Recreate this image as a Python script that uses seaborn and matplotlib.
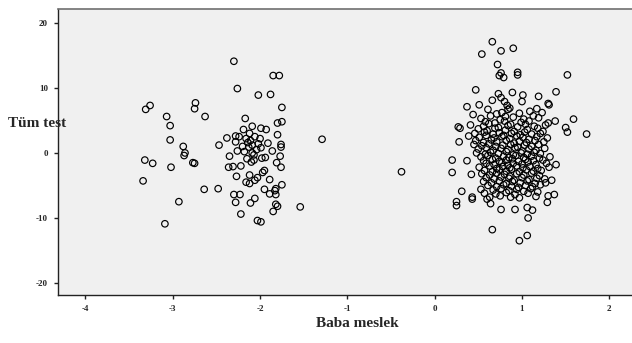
import matplotlib
matplotlib.use("Agg")
import matplotlib.pyplot as plt
import seaborn as sns
import pandas as pd

# ---- data (Baba meslek vs Tüm test) ----
left_points = [
    (-2.30, 14.1), (-1.85, 11.9), (-1.78, 11.9), (-2.26, 9.9), (-2.02, 8.9), (-1.88, 9.0),
    (-3.31, 6.7), (-3.26, 7.3), (-2.74, 7.7), (-2.75, 6.8), (-3.07, 5.6), (-2.63, 5.6), (-3.03, 4.2),
    (-1.75, 7.0), (-2.17, 5.3), (-1.80, 4.6), (-1.75, 4.8), (-2.09, 4.1), (-1.99, 3.8), (-1.93, 3.6), (-2.19, 3.6),
    (-3.03, 2.0), (-2.38, 2.3), (-2.28, 2.6), (-2.24, 2.5), (-1.29, 2.1), (-2.06, 2.5),
    (-2.88, 1.0), (-2.47, 1.2), (-2.28, 1.7), (-2.14, 1.6), (-2.11, 1.9), (-2.09, 1.2), (-2.13, 0.9),
    (-1.91, 1.5), (-1.76, 1.3), (-1.76, 0.9), (-1.99, 0.8), (-2.26, 0.3), (-2.18, 0.2), (-2.09, 0.0), (-2.07, -0.3),
    (-1.86, 0.3), (-2.86, 0.0), (-2.87, -0.4), (-2.35, -0.5), (-1.94, -0.7), (-1.77, -0.5),
    (-3.32, -1.1), (-3.23, -1.6), (-2.77, -1.5), (-2.75, -1.6), (-2.15, -0.9), (-2.07, -1.1), (-1.81, -1.5), (-1.76, -2.2),
    (-3.02, -2.2), (-2.36, -2.2), (-2.31, -2.1), (-2.27, -3.6), (-2.12, -3.4), (-2.12, -4.7), (-1.95, -2.7), (-1.97, -3.0),
    (-2.03, -3.8), (-2.16, -4.5), (-2.06, -4.2), (-1.89, -4.1), (-1.75, -4.9), (-3.34, -4.3),
    (-2.64, -5.6), (-2.48, -5.5), (-1.95, -5.6), (-1.82, -5.5), (-1.83, -5.8), (-1.89, -6.3), (-1.82, -6.4),
    (-2.30, -6.4), (-2.23, -6.4), (-2.28, -7.6), (-2.11, -7.7), (-2.06, -7.0), (-2.93, -7.5),
    (-1.82, -7.9), (-1.80, -8.2), (-1.54, -8.3), (-1.85, -9.0), (-2.22, -9.4), (-2.03, -10.4), (-1.99, -10.6), (-3.09, -10.9),
    (-2.20, 1.0), (-2.02, 1.4), (-2.16, 2.2), (-2.04, 0.5), (-1.98, -0.8), (-2.10, -1.4), (-2.22, -2.0),
    (-2.00, 2.2), (-1.80, 2.8), (-2.12, 3.0),
]

right_outer = [
    (0.66, 17.1), (0.54, 15.2), (0.76, 15.7), (0.90, 16.1), (0.72, 13.6), (0.74, 11.9), (0.79, 11.6),
    (0.76, 12.3), (0.95, 12.4), (0.95, 12.0), (1.52, 12.0),
    (0.47, 9.7), (0.37, 7.1), (0.51, 7.4), (0.73, 9.1), (0.76, 8.5), (0.80, 7.9), (0.83, 7.3), (0.84, 6.7),
    (0.89, 9.3), (1.01, 8.9), (1.00, 7.9), (1.19, 8.7), (1.39, 9.4), (1.30, 7.6), (1.31, 7.4), (0.66, 8.1),
    (1.59, 5.2), (1.52, 3.2), (1.74, 2.9), (1.50, 3.9), (1.38, 4.9),
    (0.27, 4.0), (0.29, 3.8), (0.28, 1.7), (0.20, -1.1), (0.37, -1.2), (0.20, -3.0), (0.42, -3.3),
    (-0.38, -2.9), (0.31, -5.9), (0.25, -7.5), (0.25, -8.1), (0.43, -7.1), (0.43, -6.8),
    (1.39, -1.8), (1.34, -4.2), (1.27, -4.6), (1.37, -6.4), (1.30, -6.6), (1.29, -7.6),
    (0.76, -8.7), (0.92, -8.7), (1.06, -8.4), (1.12, -8.8), (1.07, -10.0), (0.66, -11.8),
    (0.97, -13.5), (1.06, -12.7), (0.64, -7.8), (0.60, -7.1), (0.87, -6.8),
]

right_core = [
    (0.61, 6.7), (0.77, 6.2), (0.86, 6.9), (1.09, 6.4), (1.17, 6.8),
    (0.44, 5.9), (0.71, 6.0), (0.81, 5.6), (0.97, 6.1), (1.13, 5.7), (1.23, 6.2),
    (0.53, 5.3), (0.64, 5.7), (0.75, 5.1), (0.90, 5.5), (1.02, 5.2), (1.19, 5.4),
    (0.58, 4.8), (0.69, 4.6), (0.80, 4.9), (0.87, 4.4), (0.99, 4.7), (1.08, 4.9), (1.30, 4.6),
    (0.41, 4.3), (0.56, 4.1), (0.62, 4.5), (0.73, 3.9), (0.84, 4.2), (0.95, 4.0), (1.04, 4.4), (1.14, 4.1), (1.27, 4.3),
    (0.50, 3.7), (0.60, 3.4), (0.69, 3.8), (0.81, 3.5), (0.91, 3.3), (1.06, 3.6), (1.18, 3.8), (1.24, 3.3),
    (0.46, 3.0), (0.57, 3.2), (0.67, 2.9), (0.74, 3.1), (0.79, 2.7), (0.88, 3.0), (0.98, 2.8), (1.03, 3.2), (1.11, 2.9), (1.21, 3.0),
    (0.39, 2.6), (0.51, 2.4), (0.59, 2.7), (0.68, 2.3), (0.77, 2.5), (0.86, 2.2), (0.94, 2.6), (1.01, 2.4), (1.08, 2.1), (1.17, 2.5), (1.29, 2.3),
    (0.47, 1.9), (0.56, 1.6), (0.65, 2.0), (0.71, 1.7), (0.82, 1.9), (0.91, 1.5), (0.97, 1.8), (1.05, 1.6), (1.15, 1.9), (1.25, 1.7),
    (0.45, 1.3), (0.54, 1.1), (0.62, 1.4), (0.70, 1.0), (0.78, 1.2), (0.87, 1.3), (0.95, 0.9), (1.03, 1.2), (1.11, 1.0), (1.19, 1.3),
    (0.50, 0.6), (0.59, 0.8), (0.67, 0.4), (0.76, 0.7), (0.84, 0.5), (0.92, 0.8), (1.00, 0.3), (1.08, 0.6), (1.16, 0.4), (1.26, 0.7),
    (0.48, 0.0), (0.58, -0.2), (0.64, 0.1), (0.73, -0.1), (0.82, 0.2), (0.90, -0.3), (0.99, 0.0), (1.06, -0.2), (1.14, 0.1), (1.21, -0.1),
    (0.53, -0.6), (0.61, -0.4), (0.70, -0.8), (0.79, -0.5), (0.85, -0.7), (0.93, -0.4), (1.02, -0.7), (1.11, -0.5), (1.20, -0.8), (1.32, -0.6),
    (0.56, -1.2), (0.66, -1.0), (0.74, -1.3), (0.82, -1.1), (0.89, -0.9), (0.96, -1.3), (1.04, -1.0), (1.13, -1.2), (1.24, -1.1),
    (0.59, -1.6), (0.68, -1.8), (0.77, -1.5), (0.84, -1.9), (0.90, -1.6), (1.00, -1.7), (1.07, -1.4), (1.16, -1.8), (1.28, -1.6),
    (0.51, -2.2), (0.63, -2.0), (0.71, -2.4), (0.78, -2.1), (0.86, -2.3), (0.94, -2.0), (1.01, -2.3), (1.09, -2.1), (1.18, -2.4), (1.31, -2.2),
    (0.57, -2.7), (0.66, -2.9), (0.74, -2.6), (0.82, -2.8), (0.88, -2.5), (0.97, -2.9), (1.05, -2.6), (1.13, -2.8), (1.22, -2.7),
    (0.54, -3.2), (0.63, -3.4), (0.71, -3.1), (0.80, -3.3), (0.86, -3.6), (0.94, -3.2), (1.02, -3.4), (1.11, -3.1), (1.20, -3.5),
    (0.59, -3.8), (0.68, -4.0), (0.76, -3.7), (0.85, -3.9), (0.91, -4.2), (1.00, -3.8), (1.08, -4.1), (1.17, -3.9), (1.26, -4.0),
    (0.56, -4.4), (0.65, -4.6), (0.74, -4.3), (0.82, -4.7), (0.89, -4.4), (0.98, -4.6), (1.06, -4.3), (1.15, -4.7),
    (0.61, -5.0), (0.71, -5.2), (0.79, -4.9), (0.88, -5.1), (0.96, -5.3), (1.04, -5.0), (1.12, -5.2), (1.21, -4.9),
    (0.53, -5.6), (0.67, -5.7), (0.76, -5.5), (0.85, -5.8), (0.94, -5.6), (1.02, -5.9), (1.10, -5.5),
    (0.57, -6.2), (0.70, -6.3), (0.82, -6.1), (0.92, -6.4), (1.07, -6.2), (1.18, -6.0),
    (0.63, -6.8), (0.75, -6.6), (0.97, -6.9), (1.16, -6.7),
]

x_ticks = [-4, -3, -2, -1, 0, 1, 2]
y_ticks = [20, 10, 0, -10, -20]
x_label = "Baba meslek"
y_label = "Tüm test"

all_points = left_points + right_outer + right_core
df = pd.DataFrame(all_points, columns=["x", "y"])

sns.set_theme(style="white")
plt.rcParams["font.family"] = ["Liberation Serif", "DejaVu Serif"]

fig = plt.figure(figsize=(6.32, 3.43), dpi=100)
ax = fig.add_axes([0.091, 0.14, 0.909, 0.834])
ax.set_facecolor("#f0f0f0")

sns.scatterplot(data=df, x="x", y="y", ax=ax, marker="o", s=22,
                facecolors="none", edgecolor="black", linewidth=0.85)

ax.set_xlim(-4.32, 2.26)
ax.set_ylim(-21.85, 22.15)
ax.set_xticks(x_ticks)
ax.set_yticks(y_ticks)
ax.set_xticklabels([str(v) for v in x_ticks], fontsize=6.5, fontweight="bold")
ax.set_yticklabels([str(v) for v in y_ticks], fontsize=6.5, fontweight="bold")
ax.tick_params(axis="both", direction="out", length=3, width=1, color="#222222",
               pad=4, bottom=True, left=True)

for side in ["left", "bottom"]:
    ax.spines[side].set_color("#222222")
    ax.spines[side].set_linewidth(1.0)
ax.spines["top"].set_color("#707070")
ax.spines["top"].set_linewidth(1.2)
ax.spines["right"].set_visible(False)

ax.set_xlabel("")
ax.set_ylabel("")
fig.text(0.565, 0.058, x_label, fontsize=11, fontweight="bold", ha="center", va="center")
fig.text(0.013, 0.64, y_label, fontsize=11, fontweight="bold", ha="left", va="center")

fig.savefig("out.png", dpi=100)
